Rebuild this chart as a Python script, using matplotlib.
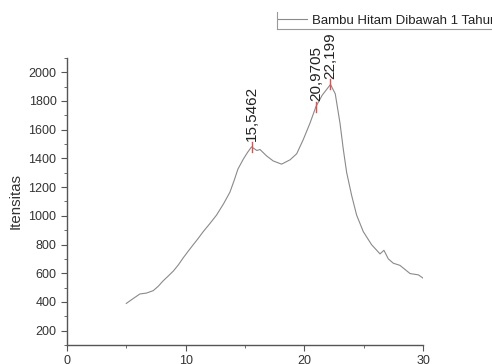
import matplotlib
matplotlib.use("Agg")
import matplotlib.pyplot as plt
from matplotlib.ticker import MultipleLocator
from matplotlib.lines import Line2D

two_theta = [5.0, 5.6, 6.15, 6.7, 7.27, 7.7, 8.1, 8.5, 8.97, 9.4, 9.8, 10.2, 10.64, 11.05, 11.48, 12.0,
             12.6, 13.2, 13.73, 14.1, 14.4, 14.85, 15.2, 15.5462, 16.0, 16.26, 16.82, 17.38, 18.08,
             18.79, 19.35, 19.9, 20.47, 20.9705, 21.5, 22.199, 22.6, 23.0, 23.28, 23.56, 23.98,
             24.4, 24.96, 25.66, 26.37, 26.7, 27.07, 27.49, 28.05, 28.9, 29.6, 30.0]
intensity = [390, 425, 456, 462, 479, 510, 547, 578, 616, 660, 708, 752, 799, 842, 890, 942,
             1005, 1085, 1165, 1250, 1325, 1394, 1440, 1480, 1455, 1462, 1417, 1382, 1360,
             1390, 1432, 1530, 1645, 1760, 1840, 1915, 1850, 1645, 1462, 1302, 1142,
             1005, 890, 799, 735, 760, 700, 670, 655, 598, 589, 566]
peak_x = [15.5462, 20.9705, 22.199]
peak_y = [1480, 1760, 1915]
peak_labels = ["15,5462", "20,9705", "22,199"]
series_name = "Bambu Hitam Dibawah 1 Tahun"

plt.rcParams['font.family'] = ['Liberation Sans', 'DejaVu Sans']
fig = plt.figure(figsize=(4.92, 3.64), dpi=100)
ax = fig.add_axes([0.136, 0.052, 0.724, 0.789])
ax.plot(two_theta, intensity, color='#8a8a8a', lw=0.8, label=series_name)
for px, py, lab in zip(peak_x, peak_y, peak_labels):
    ax.plot([px, px], [py - 35, py + 35], color='#e05050', lw=1.0)
    ax.annotate(lab, (px, py), xytext=(0, 4), textcoords='offset points',
                rotation=90, ha='center', va='bottom', fontsize=11, color='#222222')

ax.set_xlim(0, 30)
ax.set_ylim(100, 2100)
ax.xaxis.set_major_locator(MultipleLocator(10))
ax.xaxis.set_minor_locator(MultipleLocator(5))
ax.yaxis.set_minor_locator(MultipleLocator(100))
ax.set_yticks([200, 400, 600, 800, 1000, 1200, 1400, 1600, 1800, 2000])
for s in ['top', 'right']:
    ax.spines[s].set_visible(False)
for s in ['left', 'bottom']:
    ax.spines[s].set_color('#555555')
    ax.spines[s].set_linewidth(1.0)
ax.tick_params(which='both', direction='out', colors='#555555', labelcolor='#333333', labelsize=9)
ax.tick_params(which='major', length=4)
ax.tick_params(which='minor', length=2.5)
ax.tick_params(axis='x', pad=3.5)
ax.set_ylabel("Itensitas", fontsize=10.8, color='#333333', labelpad=4)

leg = ax.legend(loc='center left', bbox_to_anchor=(278 / 492, 1 - 20.5 / 364),
                bbox_transform=fig.transFigure, frameon=False,
                fontsize=9.5, handlelength=2.2, handletextpad=0.38, borderpad=0,
                borderaxespad=0, labelcolor='#222222')
# partial legend frame (left and bottom edges)
fig.add_artist(Line2D([277 / 492, 277 / 492], [1 - 12 / 364, 1 - 29 / 364],
                      transform=fig.transFigure, color='#999999', lw=0.8))
fig.add_artist(Line2D([277 / 492, 1.0], [1 - 29 / 364, 1 - 29 / 364],
                      transform=fig.transFigure, color='#999999', lw=0.8))

fig.savefig("out.png", dpi=100)
